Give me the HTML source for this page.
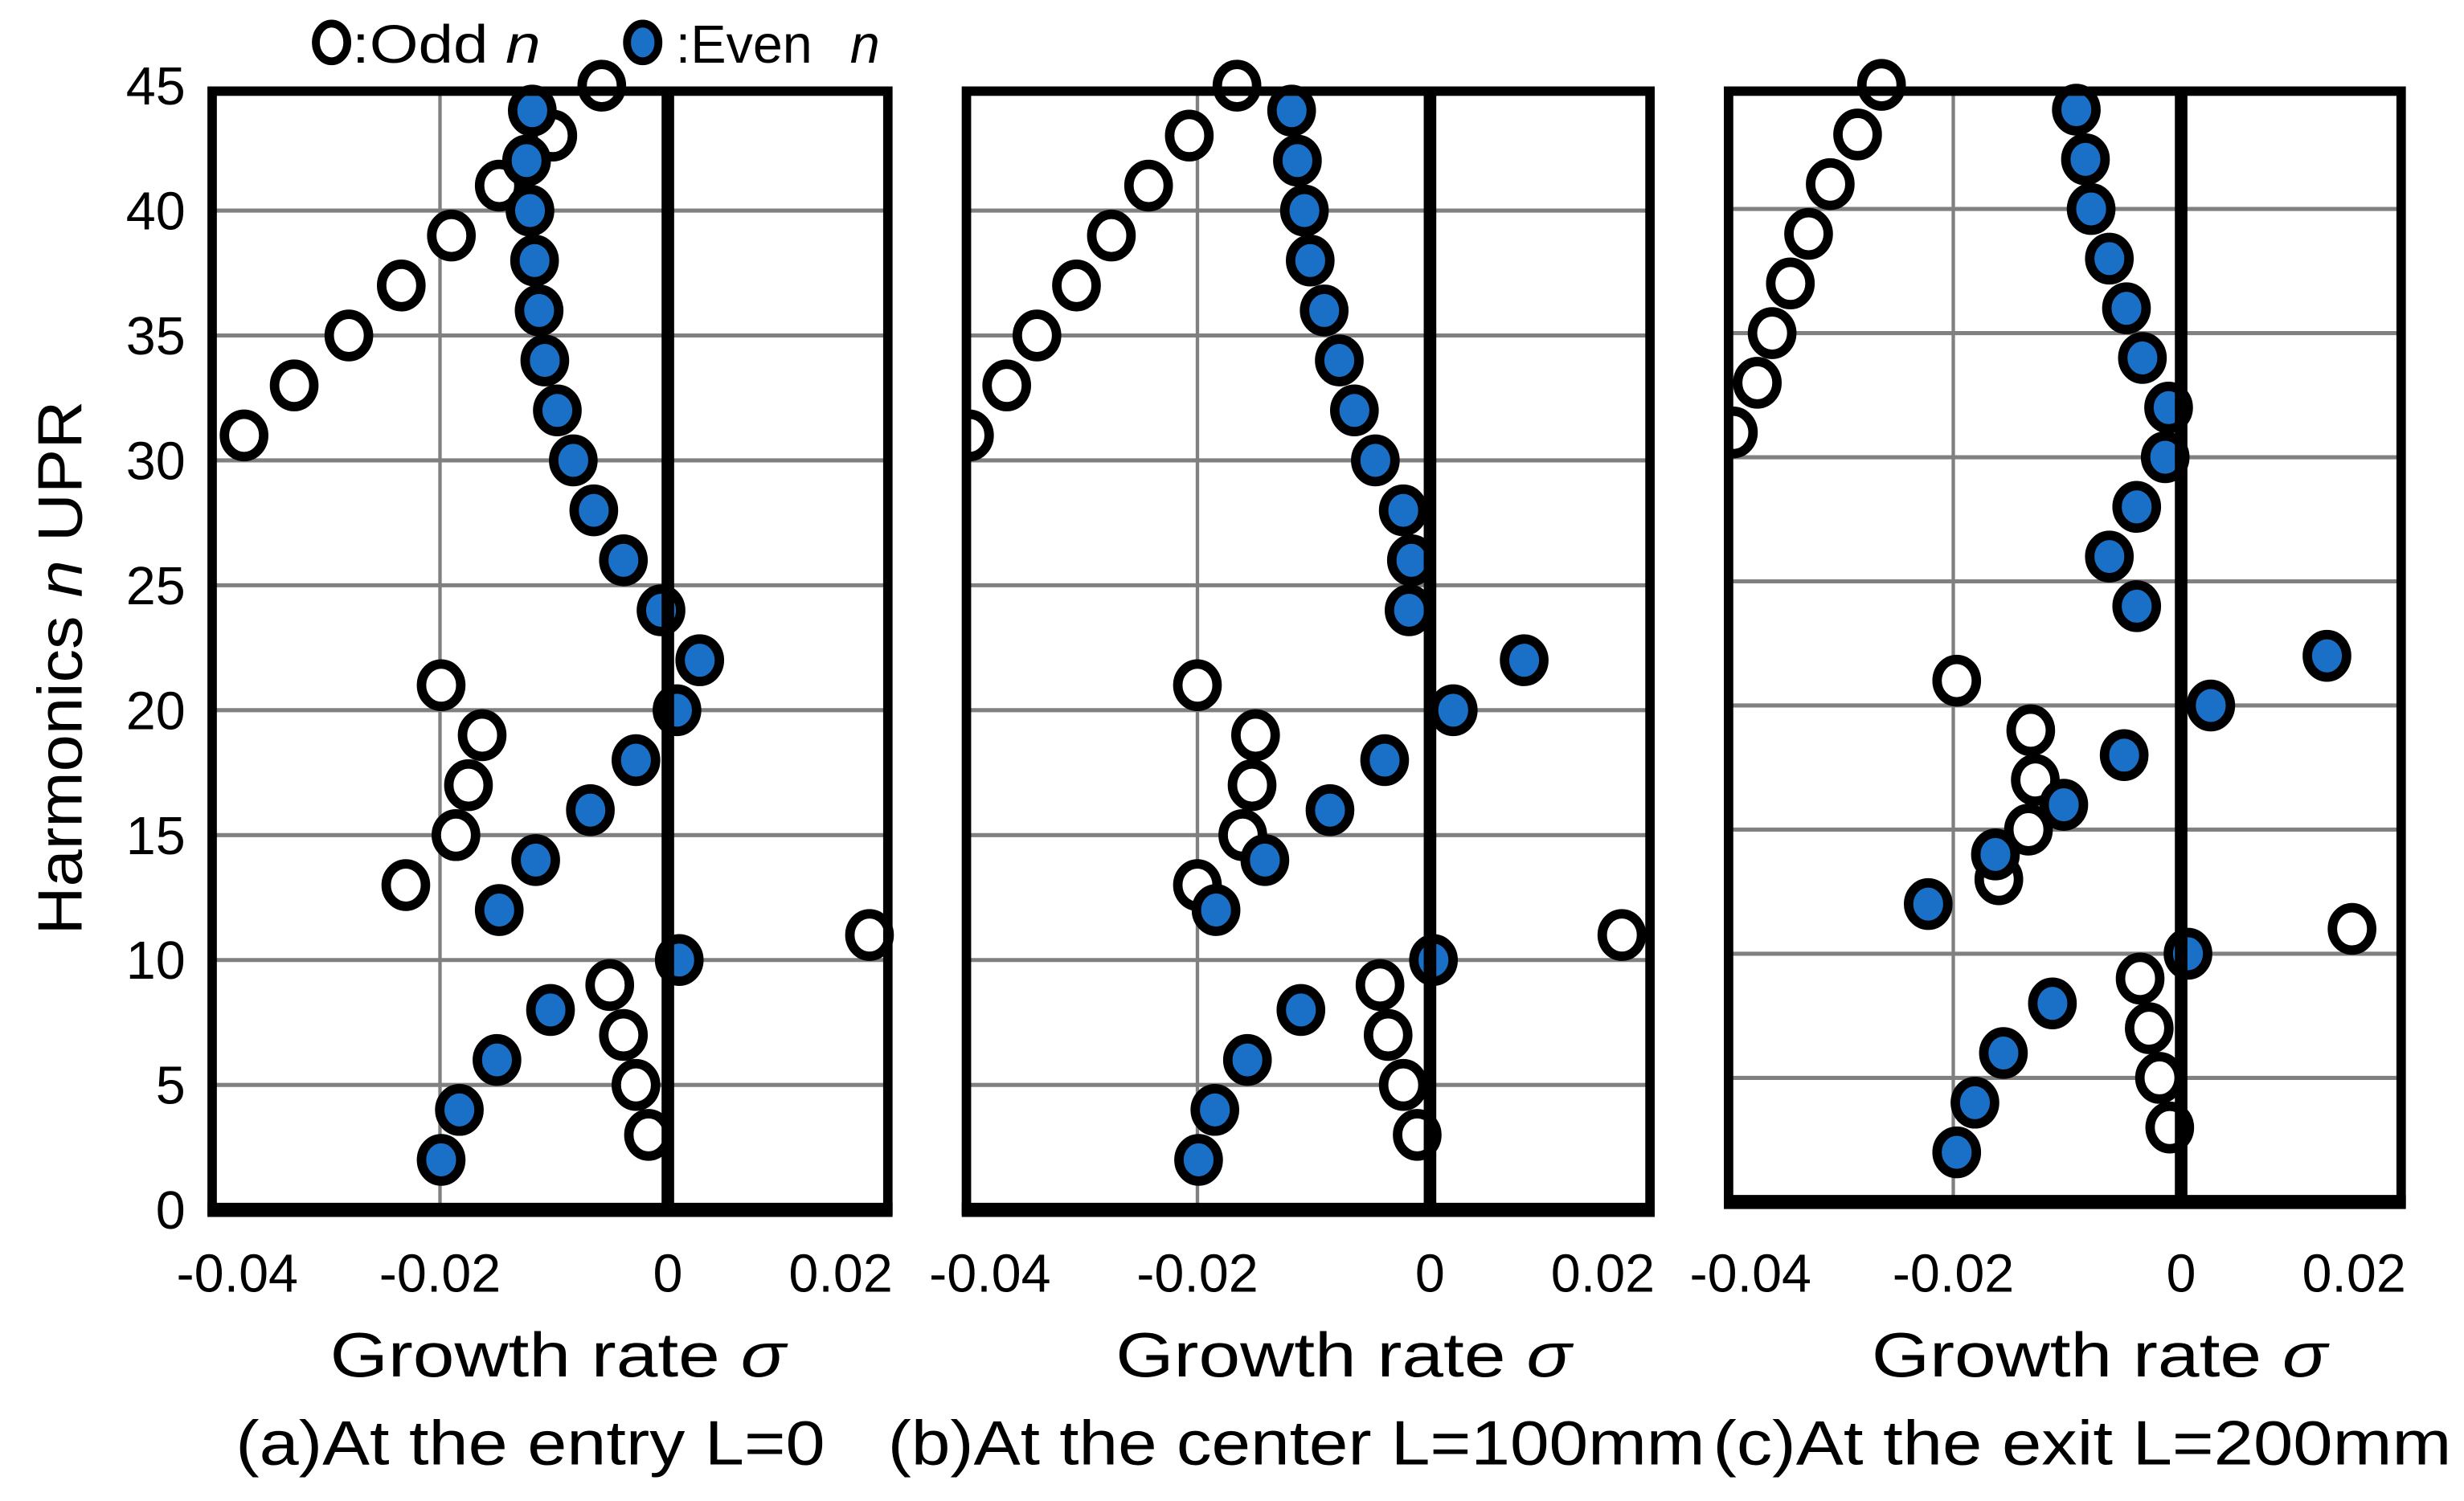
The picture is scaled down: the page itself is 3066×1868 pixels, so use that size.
<!DOCTYPE html>
<html><head><meta charset="utf-8"><style>
html,body{margin:0;padding:0;background:#fff;}
svg{display:block;font-family:"Liberation Sans",sans-serif;}
</style></head><body>
<svg id="chart" width="3066" height="1868" viewBox="0 0 1568 955.3" xmlns="http://www.w3.org/2000/svg">
<g id="root"></g>
</svg>
<script>
const oddN = [3,5,7,9,11,13,15,17,19,21,31,33,35,37,39,41,43,45];
const evenN = [2,4,6,8,10,12,14,16,18,20,22,24,26,28,30,32,34,36,38,40,42,44];
const oddA = [-0.0017,-0.0028,-0.0039,-0.0051,0.0177,-0.023,-0.0186,-0.0175,-0.0163,-0.0199,-0.0372,-0.0328,-0.028,-0.0234,-0.019,-0.0148,-0.0101,-0.0058];
const evenA = [-0.0199,-0.0183,-0.015,-0.0103,0.001,-0.0148,-0.0116,-0.0068,-0.0028,0.0008,0.0028,-0.0006,-0.0039,-0.0065,-0.0083,-0.0097,-0.0108,-0.0113,-0.0117,-0.0121,-0.0124,-0.0119];
const oddB = [-0.0011,-0.0023,-0.0036,-0.0043,0.0165,-0.02,-0.0161,-0.0153,-0.015,-0.02,-0.0396,-0.0364,-0.0338,-0.0304,-0.0274,-0.0242,-0.0207,-0.0166];
const evenB = [-0.0199,-0.0185,-0.0157,-0.0111,0.0003,-0.0184,-0.0142,-0.0086,-0.0039,0.002,0.0081,-0.0018,-0.0016,-0.0023,-0.0047,-0.0065,-0.0078,-0.0091,-0.0103,-0.0108,-0.0114,-0.0119];
const oddC = [-0.001,-0.0019,-0.0028,-0.0036,0.015,-0.016,-0.0134,-0.0128,-0.0132,-0.0197,-0.0393,-0.0372,-0.0359,-0.0343,-0.0327,-0.0308,-0.0284,-0.0263];
const evenC = [-0.0197,-0.0181,-0.0156,-0.0113,0.0006,-0.0222,-0.0163,-0.0103,-0.005,0.0026,0.0128,-0.0039,-0.0063,-0.0039,-0.0014,-0.0011,-0.0034,-0.0048,-0.0063,-0.0079,-0.0084,-0.0092];
const xTicks = [-0.04,-0.02,0,0.02];
const xTickLabels = ["-0.04","-0.02","0","0.02"];
const yTicks = [0,5,10,15,20,25,30,35,40,45];
const captions = ["(a)At the entry L=0","(b)At the center L=100mm","(c)At the exit L=200mm"];

const NS="http://www.w3.org/2000/svg";
const root=document.getElementById('root');
function mk(tag,attrs,parent){const e=document.createElementNS(NS,tag);for(const k in attrs)e.setAttribute(k,attrs[k]);(parent||root).appendChild(e);return e;}

const panels=[
 {id:'a',left:135,right:565,zero:425,pxPerUnit:7250,bottom:770,top:58,unitY:15.9,odd:oddA,even:evenA,titleX:355},
 {id:'b',left:615,right:1050,zero:910,pxPerUnit:7400,bottom:770,top:58,unitY:15.9,odd:oddB,even:evenB,titleX:855},
 {id:'c',left:1100,right:1528,zero:1388,pxPerUnit:7250,bottom:765,top:58,unitY:15.8,odd:oddC,even:evenC,titleX:1336}
];

const p0=panels[0];
yTicks.forEach(t=>{
  const tx=mk('text',{x:118,y:p0.bottom-t*p0.unitY+12,'text-anchor':'end','font-size':34,fill:'#000'});
  tx.textContent=t;
  
  
});
const yt=mk('text',{x:0,y:0,transform:'translate(52,425) rotate(-90)','text-anchor':'middle','font-size':40,fill:'#000',textLength:340,lengthAdjust:'spacingAndGlyphs'});


yt.innerHTML='Harmonics <tspan font-style="italic">n</tspan> UPR';

panels.forEach((p,pi)=>{
  const g=mk('g',{});
  
  
  const X=v=>p.zero+v*p.pxPerUnit;
  const Y=n=>p.bottom-n*p.unitY;
  const cp=mk('clipPath',{id:'clip'+p.id},g);
  mk('rect',{x:p.left,y:-50,width:1000,height:1000},cp);
  yTicks.forEach(t=>{
    if(t===0||t===45)return;
    const l=mk('line',{x1:p.left,x2:p.right,y1:Y(t),y2:Y(t),stroke:'#808080','stroke-width':2.6},g);
    
    
  });
  const vg=mk('line',{x1:X(-0.02),x2:X(-0.02),y1:p.top,y2:p.bottom,stroke:'#808080','stroke-width':2.2},g);
  
  
  const mg=mk('g',{'clip-path':'url(#clip'+p.id+')'},g);
  p.odd.forEach((v,i)=>{
    const e=mk('ellipse',{cx:X(v),cy:Y(oddN[i]),rx:12.5,ry:13.5,fill:'#fff',stroke:'#000','stroke-width':6},mg);
    
    
  });
  p.even.forEach((v,i)=>{
    const e=mk('ellipse',{cx:X(v),cy:Y(evenN[i]),rx:12.5,ry:13.5,fill:'#1a70c6',stroke:'#000','stroke-width':6},mg);
    
    
  });
  const z=mk('line',{x1:X(0),x2:X(0),y1:p.top,y2:p.bottom,stroke:'#000','stroke-width':8},g);
  
  
  const b=mk('rect',{x:p.left,y:p.top,width:p.right-p.left,height:p.bottom-p.top,fill:'none',stroke:'#000','stroke-width':6},g);
  
  
  const bb=mk('line',{x1:p.left-3,x2:p.right+3,y1:p.bottom,y2:p.bottom,stroke:'#000','stroke-width':9},g);
  
  
  xTicks.forEach((t,i)=>{
    let x=X(t); if(t>0.01) x=Math.min(x,p.right-30); if(t<-0.03) x+=16;
    const tx=mk('text',{x:x,y:822,'text-anchor':'middle','font-size':34,fill:'#000'},g);
    tx.textContent=xTickLabels[i];
    
    
  });
  const xt=mk('text',{x:p.titleX,y:876,'text-anchor':'middle','font-size':40,fill:'#000',textLength:290,lengthAdjust:'spacingAndGlyphs'},g);
  xt.innerHTML='Growth rate <tspan font-style="italic">σ</tspan>';
  
  
});
[[150,375,'a'],[565,520,'b'],[1090,470,'c']].forEach((c,i)=>{
  const t=mk('text',{x:c[0],y:932,'font-size':40,fill:'#000',textLength:c[1],lengthAdjust:'spacingAndGlyphs'});
  t.textContent=captions[i];
  
  
});
const lg=mk('g',{});


const l1=mk('ellipse',{cx:211,cy:27,rx:10,ry:12,fill:'#fff',stroke:'#000','stroke-width':5},lg);


const t1=mk('text',{x:224,y:40,'font-size':34,fill:'#000',textLength:120,lengthAdjust:'spacingAndGlyphs'},lg);
t1.innerHTML=':Odd <tspan font-style="italic">n</tspan>';


const l2=mk('ellipse',{cx:409,cy:27,rx:10,ry:12,fill:'#1a70c6',stroke:'#000','stroke-width':5},lg);


const t2=mk('text',{x:430,y:40,'font-size':34,fill:'#000'},lg);
t2.innerHTML=':Even<tspan font-style="italic" dx="24">n</tspan>';


</script>
</body></html>
